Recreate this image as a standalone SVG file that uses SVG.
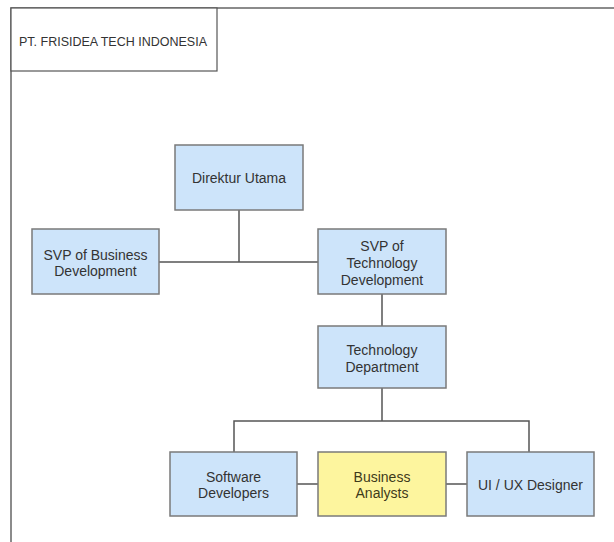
<svg xmlns="http://www.w3.org/2000/svg" width="614" height="542" viewBox="0 0 614 542">
<style>
.node{fill:#cde4fa;stroke:#7a7a7a;stroke-width:1.5}
.hl{fill:#fdf59e;stroke:#7a7a7a;stroke-width:1.5}
.t{font-family:"Liberation Sans",Arial,sans-serif;font-size:14px;fill:#333;text-anchor:middle}
.c{stroke:#555;stroke-width:1.5;fill:none}
.frame{stroke:#666;stroke-width:1.5;fill:none}
</style>
<rect width="614" height="542" fill="#fff"/>
<g id="frame">
<path class="frame" d="M11,542 V8 H614"/>
<rect x="11" y="8" width="206" height="63" fill="#fff" stroke="#555" stroke-width="1.2"/>
<text x="19" y="46" style="font-family:'Liberation Sans',Arial,sans-serif;font-size:12.5px;fill:#333">PT. FRISIDEA TECH INDONESIA</text>
</g>
<g id="connectors">
<path class="c" d="M239,210 V262"/>
<path class="c" d="M159,262 H319"/>
<path class="c" d="M382,294 V326"/>
<path class="c" d="M382,388 V421"/>
<path class="c" d="M234,452 V421 H529 V452"/>
<path class="c" d="M297,484 H318"/>
<path class="c" d="M446,484 H467"/>
</g>
<g id="direktur">
<rect class="node" x="175" y="145" width="128" height="65"/>
<text class="t" x="239" y="183">Direktur Utama</text>
</g>
<g id="svp-business">
<rect class="node" x="32" y="229" width="127" height="65"/>
<text class="t" x="95.5" y="260">SVP of Business</text>
<text class="t" x="95.5" y="276">Development</text>
</g>
<g id="svp-technology">
<rect class="node" x="318" y="229" width="128" height="65"/>
<text class="t" x="382" y="251">SVP of</text>
<text class="t" x="382" y="268">Technology</text>
<text class="t" x="382" y="285">Development</text>
</g>
<g id="tech-dept">
<rect class="node" x="318" y="326" width="128" height="62"/>
<text class="t" x="382" y="355">Technology</text>
<text class="t" x="382" y="372">Department</text>
</g>
<g id="software-dev">
<rect class="node" x="170" y="452" width="127" height="64"/>
<text class="t" x="233.5" y="482">Software</text>
<text class="t" x="233.5" y="498">Developers</text>
</g>
<g id="business-analysts">
<rect class="hl" x="318" y="452" width="128" height="64"/>
<text class="t" x="382" y="482" style="fill:#3d3a1a">Business</text>
<text class="t" x="382" y="498" style="fill:#3d3a1a">Analysts</text>
</g>
<g id="uiux">
<rect class="node" x="467" y="452" width="127" height="64"/>
<text class="t" x="530.5" y="490">UI / UX Designer</text>
</g>
</svg>
